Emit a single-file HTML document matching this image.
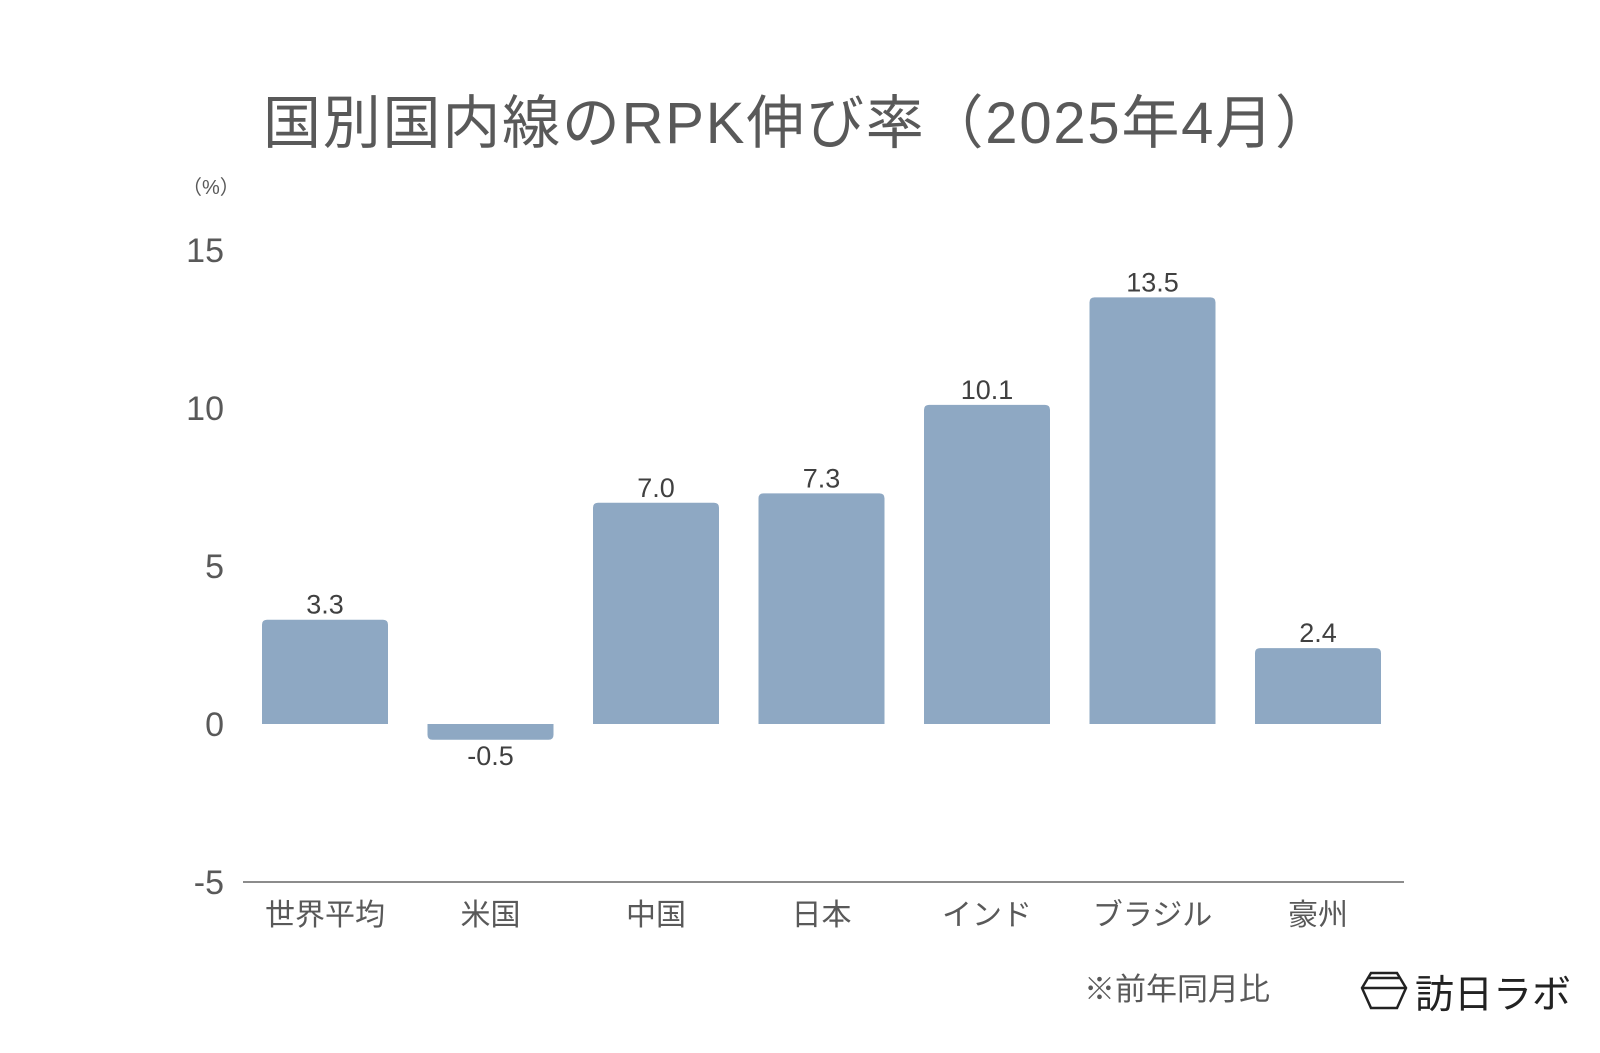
<!DOCTYPE html>
<html><head><meta charset="utf-8"><style>
body{margin:0;background:#fff;width:1600px;height:1048px;overflow:hidden;font-family:"Liberation Sans","Noto Sans CJK JP",sans-serif;}
</style></head><body>
<svg width="1600" height="1048" xmlns="http://www.w3.org/2000/svg">
<text x="263" y="143" font-size="58" fill="#595959" textLength="1070" lengthAdjust="spacing" font-family="Liberation Sans, Noto Sans CJK JP, sans-serif">国別国内線のRPK伸び率（2025年4月）</text>
<text x="182" y="194" font-size="20" fill="#595959" font-family="Liberation Sans, Noto Sans CJK JP, sans-serif">（%）</text>
<g id="ticks"></g>
<g id="bars"></g>
<line x1="243" x2="1404" y1="882" y2="882" stroke="#8c8c8c" stroke-width="2"/>
<text x="1084" y="1000" font-size="31" fill="#595959" font-family="Liberation Sans, Noto Sans CJK JP, sans-serif">※前年同月比</text>
<g>
<polygon points="1362,988 1371,973 1397,973 1406,988 1397,1008 1371,1008" fill="none" stroke="#222" stroke-width="2.5"/>
<line x1="1362" y1="988" x2="1406" y2="988" stroke="#222" stroke-width="2.5"/>
<line x1="1369" y1="978" x2="1399" y2="978" stroke="#222" stroke-width="2.5"/>
<text x="1415" y="1008" font-size="39" fill="#222" font-family="Liberation Sans, Noto Sans CJK JP, sans-serif">訪日ラボ</text>
</g>
</svg>
<script>
const categories=["世界平均","米国","中国","日本","インド","ブラジル","豪州"];
const values=[3.3,-0.5,7.0,7.3,10.1,13.5,2.4];
const tickValues=[15,10,5,0,-5];
const NS="http://www.w3.org/2000/svg";
const y0=724, ppu=31.6;
function y(v){return y0-v*ppu;}
function xc(i){return 325+i*165.5;}
const tg=document.getElementById('ticks');
tickValues.forEach(t=>{
 const e=document.createElementNS(NS,'text');
 
 
 e.setAttribute('x',224);e.setAttribute('y',y(t)+12);
 e.setAttribute('text-anchor','end');e.setAttribute('font-size','34');e.setAttribute('fill','#595959');
 e.textContent=String(t);tg.appendChild(e);
});
const bg=document.getElementById('bars');
const w=126,r=5;
values.forEach((v,i)=>{
 const x=xc(i)-w/2, top=y(Math.max(v,0)), bot=y(Math.min(v,0));
 const p=document.createElementNS(NS,'path');
 
 
 let d;
 if(v>=0) d=`M${x},${bot}V${top+r}Q${x},${top} ${x+r},${top}H${x+w-r}Q${x+w},${top} ${x+w},${top+r}V${bot}Z`;
 else d=`M${x},${top}V${bot-r}Q${x},${bot} ${x+r},${bot}H${x+w-r}Q${x+w},${bot} ${x+w},${bot-r}V${top}Z`;
 p.setAttribute('d',d);p.setAttribute('fill','#8ea8c3');bg.appendChild(p);
 const t=document.createElementNS(NS,'text');
 
 
 t.setAttribute('x',xc(i));t.setAttribute('y',v>=0?top-6:bot+25);
 t.setAttribute('text-anchor','middle');t.setAttribute('font-size','27');t.setAttribute('fill','#404040');
 t.textContent=v.toFixed(1);bg.appendChild(t);
 const c=document.createElementNS(NS,'text');
 
 
 c.setAttribute('x',xc(i));c.setAttribute('y',925);
 c.setAttribute('text-anchor','middle');c.setAttribute('font-size','30');c.setAttribute('fill','#595959');
 c.setAttribute('font-family','Liberation Sans, Noto Sans CJK JP, sans-serif');
 c.textContent=categories[i];bg.appendChild(c);
});
</script>
</body></html>
